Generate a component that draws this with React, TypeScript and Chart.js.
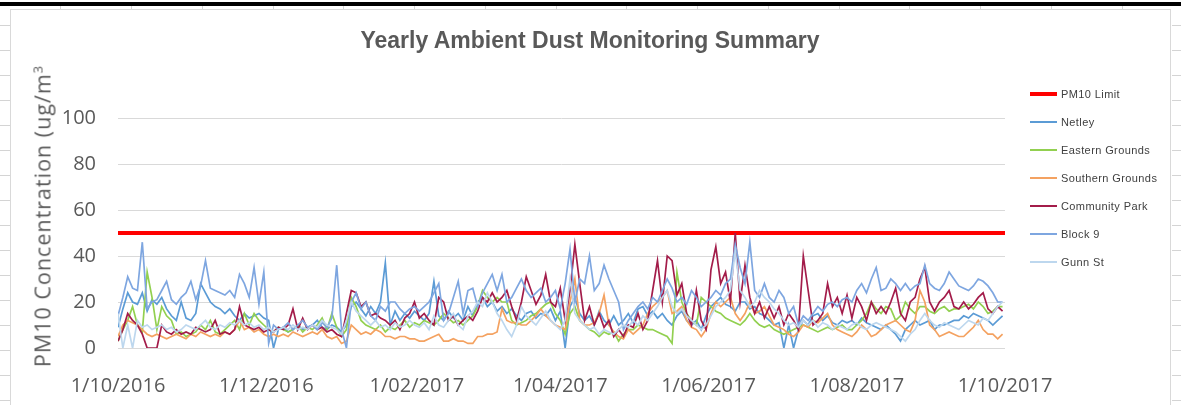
import React, { useEffect, useRef } from "react";
import { Chart, registerables } from "chart.js";

Chart.register(...registerables);

// ---- data ----
const CHART_TITLE = "Yearly Ambient Dust Monitoring Summary";
const DAY_STEP = 2; // one reading every 2 days starting 1/10/2016
const TICK_DAYS = [0, 61, 123, 182, 243, 304, 365];
const TICK_LABELS = ["1/10/2016", "1/12/2016", "1/02/2017", "1/04/2017", "1/06/2017", "1/08/2017", "1/10/2017"];
const LIMIT = 50;
const Y_MIN = 0;
const Y_MAX = 100;
const Y_STEP = 20;

const NETLEY = [
  9, 17, 24, 20, 19, 24, 16, 21, 19, 22,
  17, 14, 12, 20, 13, 12, 15, 28, 24, 20,
  18, 17, 15, 17, 14, 12, 15, 13, 14, 15,
  13, 12, 0, 8, 9, 7, 8, 10, 8, 9,
  10, 12, 9, 8, 10, 9, 7, 10, 18, 20,
  17, 14, 18, 15, 20, 37, 10, 16, 12, 15,
  13, 16, 14, 12, 15, 29, 14, 12, 16, 13,
  15, 12, 18, 14, 20, 22, 18, 20, 16, 18,
  15, 17, 14, 12, 15, 16, 13, 15, 14, 17,
  12, 16, 0, 18, 22, 15, 12, 14, 10, 16,
  12, 10, 14, 10, 12, 15, 11, 17, 18, 14,
  16, 13, 15, 12, 10, 14, 16, 12, 10, 12,
  8, 14, 18, 20, 22, 19, 18, 16, 20, 20,
  17, 18, 15, 14, 12, 10, 11, 0, 10, 0,
  8, 12, 10, 14, 15, 12, 14, 11, 10, 12,
  11, 12, 10, 13, 11, 10, 9, 8, 10, 8,
  6, 3, 8, 10, 12, 10, 11, 12, 8, 10,
  10, 11, 12, 12, 14, 13, 15, 14, 13, 12,
  10, 12, 14,
];

const EASTERN = [
  3, 8, 12, 18, 10, 7, 33, 22, 8, 18,
  14, 12, 6, 7, 5, 6, 7, 10, 8, 12,
  7, 6, 8, 10, 12, 8, 15, 10, 15, 12,
  10, 8, 7, 9, 8, 7, 8, 10, 7, 9,
  8, 10, 13, 8, 15, 9, 5, 8, 22, 18,
  12, 10, 9, 8, 10, 7, 9, 8, 10, 12,
  9, 11, 10, 12, 11, 10, 12, 15, 13, 11,
  12, 10, 12, 14, 18, 25, 22, 20, 22, 20,
  20, 12, 10, 11, 12, 14, 15, 17, 19, 20,
  15, 12, 6, 15, 18, 12, 10, 8, 7, 5,
  7, 6, 7, 3, 6, 8, 8, 10, 9, 8,
  8, 7, 6, 5, 2, 33, 20, 15, 12, 10,
  22, 20, 18, 16, 15, 13, 12, 11, 10, 12,
  15, 12, 10, 9, 10, 8, 7, 6, 7, 8,
  9, 10, 9, 8, 7, 8, 9, 8, 9, 10,
  8, 8, 10, 12, 15, 20, 17, 15, 18, 17,
  12, 14, 20, 17, 15, 18, 18, 16, 15, 17,
  18, 16, 17, 17, 18, 19, 17, 20, 18, 15,
  16, 18, 18,
];

const SOUTHERN = [
  5, 10, 12, 11, 10, 8, 6, 5, 6, 5,
  4, 5, 6, 5, 4, 6, 5, 7, 6, 5,
  6, 5, 7, 6, 8, 12, 8, 9, 7, 8,
  6, 5, 6, 5, 6, 5, 7, 6, 5, 6,
  7, 6, 8, 5, 4, 5, 2, 3, 10, 8,
  6, 7, 6, 8, 7, 5, 5, 4, 5, 5,
  4, 4, 3, 3, 4, 5, 6, 3, 3, 4,
  3, 3, 2, 2, 5, 5, 6, 6, 7, 17,
  12, 11, 11, 10, 10, 12, 14, 17, 14, 12,
  10, 9, 8, 20, 30, 12, 10, 10, 11, 15,
  23, 10, 7, 5, 4, 8, 6, 8, 10, 15,
  18, 20, 22, 25, 15, 16, 18, 12, 9, 8,
  5, 8, 15, 20, 18, 20, 22, 15, 12, 15,
  20, 15, 16, 18, 14, 10, 9, 8, 6, 5,
  7, 10, 9, 12, 11, 13, 15, 10, 8, 7,
  6, 5, 7, 10, 8, 5, 6, 8, 10, 11,
  12, 10, 8, 7, 12, 25, 20, 10, 8, 5,
  6, 7, 6, 5, 5, 7, 9, 12, 8, 6,
  6, 4, 6,
];

const COMMUNITY_PARK = [
  3, 8, 15, 12, 10, 6, 0, 0, 0, 10,
  7, 6, 8, 6, 7, 6, 9, 8, 7, 8,
  12, 6, 7, 6, 8, 18, 10, 9, 8, 9,
  7, 8, 7, 9, 8, 10, 17, 8, 13, 8,
  10, 8, 9, 7, 8, 6, 5, 15, 25, 24,
  18, 20, 14, 15, 13, 12, 10, 12, 8, 13,
  15, 20, 13, 15, 12, 10, 22, 20, 12, 14,
  10, 12, 14, 12, 16, 22, 20, 24, 20, 22,
  25, 18, 12, 20, 31, 25, 19, 23, 32, 20,
  18, 26, 12, 25, 45, 28, 12, 18, 10, 15,
  9, 12, 5, 8, 5, 10, 9, 15, 8, 12,
  25, 38, 20, 40, 38, 23, 28, 15, 10, 25,
  12, 8, 34, 44, 28, 33, 20, 50, 20, 36,
  22, 15, 20, 13, 18, 13, 18, 10, 15, 12,
  8, 40, 25, 10, 12, 15, 28, 18, 22, 15,
  23, 13, 22, 18, 12, 20, 15, 18, 15, 20,
  26, 15, 12, 20, 22, 30, 35, 20, 16, 20,
  22, 25, 18, 17, 20, 17, 19, 22, 24, 17,
  15, 18, 16,
];

const BLOCK_9 = [
  14, 22, 31, 26, 25, 46, 17, 20, 21, 25,
  29, 21, 19, 22, 24, 29, 21, 27, 38, 26,
  25, 24, 23, 25, 22, 32, 28, 22, 35, 19,
  33, 2, 10, 8, 9, 11, 8, 10, 12, 9,
  10, 8, 11, 9, 13, 36, 8, 0, 20, 24,
  17, 20, 14, 12, 18, 16, 20, 20, 17, 15,
  17, 18, 16, 18, 20, 24, 28, 12, 15, 22,
  29, 15, 25, 26, 18, 24, 28, 32, 25, 32,
  20, 22, 26, 30, 25, 22, 24, 26, 20, 22,
  25, 17, 28, 43, 20, 30, 28, 40, 25, 28,
  36, 30, 25, 20, 8, 12, 15, 18, 20, 17,
  22, 20, 25, 30, 26, 20, 22, 19, 25, 22,
  18, 20, 22, 25, 23, 28, 30, 45, 35, 28,
  46, 25, 22, 28, 22, 20, 25, 22, 15, 18,
  10, 14, 12, 15, 18, 16, 19, 20, 18, 21,
  22, 20, 25, 28, 24, 30, 35, 25, 26, 30,
  28, 25, 28, 25, 27, 28, 36, 28, 26, 25,
  28, 33, 30, 27, 26, 25, 27, 30, 29, 27,
  24, 20, 20,
];

const GUNN_ST = [
  15, 0, 10, 0, 12, 9, 10, 8, 9, 10,
  8, 9, 7, 8, 10, 9, 8, 10, 12, 9,
  8, 10, 9, 11, 10, 12, 10, 11, 9, 10,
  8, 9, 7, 8, 9, 8, 10, 8, 9, 8,
  10, 9, 12, 10, 9, 8, 6, 12, 20, 16,
  14, 12, 10, 12, 9, 10, 8, 11, 9, 10,
  12, 10, 9, 11, 8, 14, 10, 9, 12, 15,
  10, 8, 14, 16, 20, 18, 24, 20, 15, 12,
  8, 5, 10, 18, 14, 12, 10, 13, 16, 12,
  10, 8, 12, 30, 15, 12, 10, 8, 9, 6,
  8, 7, 6, 8, 10, 9, 12, 10, 14, 12,
  15, 18, 22, 25, 18, 15, 17, 14, 12, 10,
  8, 10, 14, 18, 20, 22, 25, 42, 25, 22,
  18, 20, 25, 22, 20, 17, 15, 12, 10, 11,
  9, 12, 10, 12, 9, 11, 10, 8, 10, 9,
  8, 10, 11, 9, 8, 10, 11, 10, 9, 8,
  7, 5, 3, 6, 8, 12, 15, 12, 10, 9,
  11, 10, 9, 8, 10, 12, 11, 10, 13, 12,
  15, 18, 20,
];

const SERIES_NAMES = ["PM10 Limit", "Netley", "Eastern Grounds", "Southern Grounds", "Community Park", "Block 9", "Gunn St"];
const SERIES_COLORS = ["#FF0000", "#5B9BD5", "#92D050", "#F4A261", "#A31C4A", "#7EA6E0", "#BDD7EE"];
const SERIES_VALUES = [null, NETLEY, EASTERN, SOUTHERN, COMMUNITY_PARK, BLOCK_9, GUNN_ST];

const AXIS_FONT = "'Open Sans', 'Noto Sans', sans-serif";
const TEXT_GREY = "#595959";

function toPoints(arr: number[]) {
  return arr.map((v, i) => ({ x: i * DAY_STEP, y: v }));
}

export default function App() {
  const canvasRef = useRef<HTMLCanvasElement | null>(null);

  useEffect(() => {
    const canvas = canvasRef.current;
    if (!canvas) return;
    const lastDay = TICK_DAYS[TICK_DAYS.length - 1];
    const datasets: any[] = SERIES_NAMES.map((name, i) => {
      const vals = SERIES_VALUES[i];
      const data = vals
        ? toPoints(vals)
        : [
            { x: TICK_DAYS[0], y: LIMIT },
            { x: lastDay, y: LIMIT },
          ];
      return {
        label: name,
        data,
        borderColor: SERIES_COLORS[i],
        backgroundColor: SERIES_COLORS[i],
        borderWidth: vals ? 1.7 : 4,
        pointRadius: 0,
        tension: 0,
        fill: false,
        order: SERIES_NAMES.length - i,
      };
    });

    const chart = new Chart(canvas, {
      type: "line",
      data: { datasets },
      options: {
        animation: false,
        responsive: false,
        devicePixelRatio: 1,
        layout: { padding: { left: 0, top: 118, right: 176, bottom: 0 } },
        plugins: {
          legend: { display: false },
          title: { display: false },
          tooltip: { enabled: false },
        },
        scales: {
          x: {
            type: "linear",
            min: TICK_DAYS[0],
            max: lastDay,
            grid: { display: false },
            border: { display: false },
            afterBuildTicks: (scale: any) => {
              scale.ticks = TICK_DAYS.map((v) => ({ value: v }));
            },
            afterFit: (scale: any) => {
              scale.height = 57;
            },
            ticks: {
              autoSkip: false,
              maxRotation: 0,
              minRotation: 0,
              padding: 18,
              color: TEXT_GREY,
              font: { family: AXIS_FONT, size: 20 },
              callback: (v: any) => {
                const idx = TICK_DAYS.indexOf(Number(v));
                return idx >= 0 ? TICK_LABELS[idx] : "";
              },
            },
          },
          y: {
            min: Y_MIN,
            max: Y_MAX,
            grid: { color: "#D9D9D9", lineWidth: 1, drawTicks: false },
            border: { display: false },
            afterFit: (scale: any) => {
              scale.width = 118;
            },
            ticks: {
              stepSize: Y_STEP,
              padding: 22,
              color: TEXT_GREY,
              font: { family: AXIS_FONT, size: 20 },
            },
          },
        },
      },
    });
    return () => chart.destroy();
  }, []);

  const colLines = [60, 131, 202, 273, 343, 414, 485, 556, 626, 697, 768, 839, 909, 980, 1051, 1122];
  const rowLines = [15, 40, 65, 90, 115, 140, 165, 190, 215, 240, 265, 290, 315, 340, 365, 390];

  return (
    <div style={{ position: "absolute", left: 0, top: 0, width: 1181, height: 405, background: "#fff", overflow: "hidden" }}>
      {/* spreadsheet chrome */}
      <div style={{ position: "absolute", left: 0, top: 2, width: 1181, height: 4, background: "#000" }} />
      {colLines.map((x) => (
        <div key={"c" + x} style={{ position: "absolute", left: x, top: 6, width: 1, height: 4, background: "#D4D4D4" }} />
      ))}
      {rowLines.map((y) => (
        <React.Fragment key={"r" + y}>
          <div style={{ position: "absolute", left: 0, top: y + 10, width: 10, height: 1, background: "#D4D4D4" }} />
          <div style={{ position: "absolute", left: 1172, top: y + 10, width: 9, height: 1, background: "#D4D4D4" }} />
        </React.Fragment>
      ))}
      <div
        style={{
          position: "absolute",
          left: 10,
          top: 9,
          width: 1161,
          height: 400,
          border: "1px solid #D9D9D9",
          background: "#fff",
          boxSizing: "border-box",
        }}
      />
      <canvas ref={canvasRef} width={1181} height={405} style={{ position: "absolute", left: 0, top: 0, width: 1181, height: 405 }} />
      {/* title */}
      <div
        style={{
          position: "absolute",
          left: 590,
          top: 40,
          transform: "translate(-50%, -50%)",
          whiteSpace: "nowrap",
          fontFamily: "'Liberation Sans Narrow', 'Liberation Sans', sans-serif",
          fontWeight: "bold",
          fontSize: 23,
          color: TEXT_GREY,
        }}
      >
        {CHART_TITLE}
      </div>
      {/* y axis title */}
      <div
        style={{
          position: "absolute",
          left: 42,
          top: 216,
          transform: "translate(-50%, -50%) rotate(-90deg)",
          whiteSpace: "nowrap",
          fontFamily: AXIS_FONT,
          fontSize: 21.5,
          letterSpacing: 1,
          color: TEXT_GREY,
        }}
      >
        PM10 Concentration (ug/m<sup style={{ fontSize: 13, verticalAlign: "super", lineHeight: 0 }}>3</sup>
      </div>
      {/* legend */}
      {SERIES_NAMES.map((name, i) => (
        <div key={name} style={{ position: "absolute", left: 1030, top: 94 + i * 28 - 8, height: 16, display: "flex", alignItems: "center" }}>
          <div style={{ width: 27, height: i === 0 ? 4 : 2, background: SERIES_COLORS[i] }} />
          <span
            style={{
              marginLeft: 4,
              fontFamily: "'Liberation Sans', sans-serif",
              fontSize: 11,
              letterSpacing: 0.4,
              color: "#404040",
              whiteSpace: "nowrap",
            }}
          >
            {name}
          </span>
        </div>
      ))}
    </div>
  );
}
